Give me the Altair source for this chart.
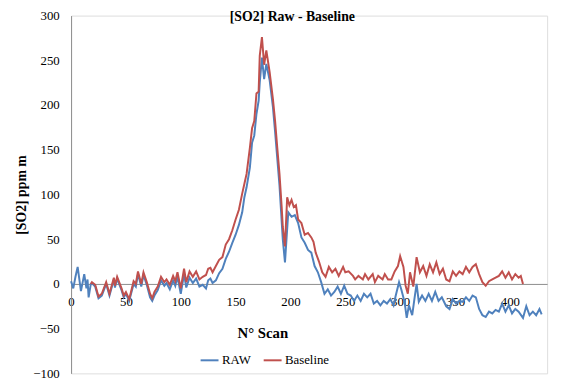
import altair as alt
import pandas as pd

raw_scan = [0, 2, 4, 6, 9, 12, 14, 15, 16, 18, 19, 22, 25, 28, 32, 35, 39, 40, 42, 46, 48, 50, 53, 57, 59, 61, 64, 66, 69, 72, 74, 76, 79, 82, 85, 87, 90, 93, 95, 97, 100, 103, 105, 108, 111, 114, 117, 120, 123, 125, 127, 129, 132, 135, 138, 141, 144, 147, 150, 153, 156, 158, 160, 163, 165, 167, 169, 171, 172, 174, 176, 178, 181, 184, 186, 188, 190, 192, 193, 195, 198, 201, 204, 207, 210, 213, 216, 219, 222, 225, 228, 231, 234, 237, 240, 243, 246, 249, 252, 255, 258, 261, 264, 267, 270, 273, 276, 279, 282, 285, 288, 291, 294, 296, 299, 301, 304, 306, 308, 311, 313, 315, 317, 320, 323, 326, 329, 332, 335, 338, 342, 345, 348, 351, 354, 357, 360, 363, 366, 369, 372, 375, 378, 381, 384, 387, 390, 393, 396, 399, 402, 405, 408, 412, 415, 418, 421, 424, 427, 429]
raw_val = [3, -5, 8, 19, -8, 11, -5, 5, -15, 0, 1, -3, -16, -13, 0, -13, 5, -4, 6, -7, -15, -11, -19, 0, -3, 11, -3, 10, -1, -15, -19, -13, -7, 4, -2, 1, -6, 4, -2, 8, -11, 11, -4, 7, 1, 6, -3, -1, -5, 4, 6, 1, 4, 12, 17, 28, 36, 46, 55, 66, 80, 97, 108, 130, 158, 166, 190, 205, 225, 253, 229, 246, 228, 198, 170, 140, 110, 70, 50, 24, 80, 75, 77, 68, 52, 46, 38, 35, 20, 13, 2, -11, -6, -13, -9, -3, -11, -2, -11, -13, -19, -13, -19, -11, -15, -11, -22, -19, -24, -19, -22, -17, -24, -13, 2, -6, -20, -38, -24, -35, -17, 0, -20, -13, -19, -11, -19, -9, -19, -15, -25, -28, -17, -22, -19, -20, -15, -19, -13, -15, -28, -35, -37, -31, -33, -29, -31, -22, -31, -24, -33, -28, -31, -38, -25, -35, -31, -35, -28, -34]

base_scan = [18, 19, 22, 25, 28, 32, 35, 39, 40, 42, 46, 48, 50, 53, 57, 59, 61, 64, 66, 69, 72, 74, 76, 79, 82, 85, 87, 90, 93, 95, 97, 100, 103, 105, 108, 111, 114, 117, 120, 123, 125, 127, 129, 132, 135, 138, 141, 144, 147, 150, 153, 156, 158, 160, 163, 165, 167, 169, 171, 172, 174, 176, 178, 181, 184, 186, 188, 190, 192, 193, 195, 197, 199, 201, 203, 205, 207, 210, 213, 216, 219, 221, 223, 226, 229, 232, 235, 238, 241, 244, 248, 250, 253, 257, 259, 262, 266, 268, 271, 275, 277, 280, 284, 286, 289, 292, 295, 298, 300, 303, 305, 307, 309, 312, 315, 318, 321, 324, 327, 330, 333, 336, 339, 342, 345, 348, 351, 354, 357, 360, 363, 366, 369, 372, 375, 378, 381, 384, 387, 390, 393, 396, 399, 402, 405, 408, 410, 412]
base_val = [0, 2, -1, -14, -11, 2, -11, 7, -2, 8, -5, -13, -9, -17, 3, 0, 14, 0, 13, 2, -11, -16, -9, -3, 8, 2, 5, -1, 9, 3, 13, -5, 17, 2, 14, 8, 14, 5, 8, 10, 17, 18, 13, 20, 27, 30, 44, 50, 60, 72, 83, 101, 112, 123, 152, 174, 182, 213, 215, 255, 276, 245, 261, 237, 207, 182, 152, 123, 86, 64, 42, 97, 88, 94, 86, 88, 72, 68, 55, 57, 52, 47, 35, 25, 13, 8, 19, 13, 17, 9, 19, 13, 14, 9, 5, 9, 5, 11, 5, 11, 2, 9, 5, 11, 5, 5, 14, 20, 31, 19, -2, -11, 13, -3, 30, 13, 20, 9, 22, 13, 24, 11, 17, 5, 3, 14, 9, 14, 11, 19, 13, 19, 22, 11, 2, -2, 3, 5, 7, 9, 14, 7, 13, 5, 11, 7, 9, 0]

series_names = ["RAW", "Baseline"]
series_colors = ["#4F81BD", "#C0504D"]
x_ticks = [0, 50, 100, 150, 200, 250, 300, 350, 400]
y_ticks = [-100, -50, 0, 50, 100, 150, 200, 250, 300]

df = pd.concat([
    pd.DataFrame({"scan": raw_scan, "value": raw_val, "series": series_names[0]}),
    pd.DataFrame({"scan": base_scan, "value": base_val, "series": series_names[1]}),
])

W, H = 483, 363
FONT = "Liberation Serif"

x_enc = alt.X("scan:Q",
              scale=alt.Scale(domain=[0, 434], nice=False, zero=False),
              axis=alt.Axis(values=x_ticks, title="N° Scan", offset=-H * 100 / 400,
                            grid=False, ticks=False, domainColor="#8c8c8c",
                            labelPadding=12, labelFontSize=13, labelFont=FONT,
                            labelColor="#000000", labelFlush=False,
                            titleFont=FONT, titleFontSize=15, titleFontWeight="bold",
                            titleColor="#000000", titleX=194, titleY=49,
                            titleBaseline="middle", titleAlign="center"))
y_enc = alt.Y("value:Q",
              scale=alt.Scale(domain=[-100, 300], nice=False),
              axis=alt.Axis(values=y_ticks, title="[SO2] ppm m", grid=False, ticks=False,
                            domainColor="#8c8c8c", labelPadding=12, labelFontSize=13,
                            labelFont=FONT, labelColor="#000000",
                            titleFont=FONT, titleFontSize=14, titleFontWeight="bold",
                            titleColor="#000000", titleX=-50, titleY=H / 2,
                            titleAngle=-90, titleBaseline="middle", titleAlign="center"))
color_enc = alt.Color("series:N",
                      scale=alt.Scale(domain=series_names, range=series_colors),
                      legend=alt.Legend(title=None, orient="none", direction="horizontal",
                                        legendX=130, legendY=339, symbolType="stroke",
                                        symbolStrokeWidth=2, symbolSize=330,
                                        labelFont=FONT, labelFontSize=13,
                                        labelColor="#000000", columnPadding=8,
                                        labelOffset=2))

base = alt.Chart(df).encode(x=x_enc, y=y_enc, color=color_enc)
raw_line = base.transform_filter(alt.datum.series == "RAW").mark_line(strokeWidth=2)
bl_line = base.transform_filter(alt.datum.series == "Baseline").mark_line(strokeWidth=2)

chart = alt.layer(raw_line, bl_line).properties(
    width=W, height=H,
    title=alt.Title("[SO2] Raw - Baseline", font=FONT, fontSize=14, fontWeight="bold",
                    color="#000000", anchor="middle", dx=-17, dy=18),
    autosize=alt.AutoSizeParams(type="none"),
    padding={"left": 64, "top": 5, "right": 9, "bottom": 3},
).configure_view(stroke=None).configure(
    background="#ffffff", font=FONT
).configure_axis(labelFont=FONT, titleFont=FONT)

chart.save("out.html", embed_options={"renderer": "svg", "actions": False})
